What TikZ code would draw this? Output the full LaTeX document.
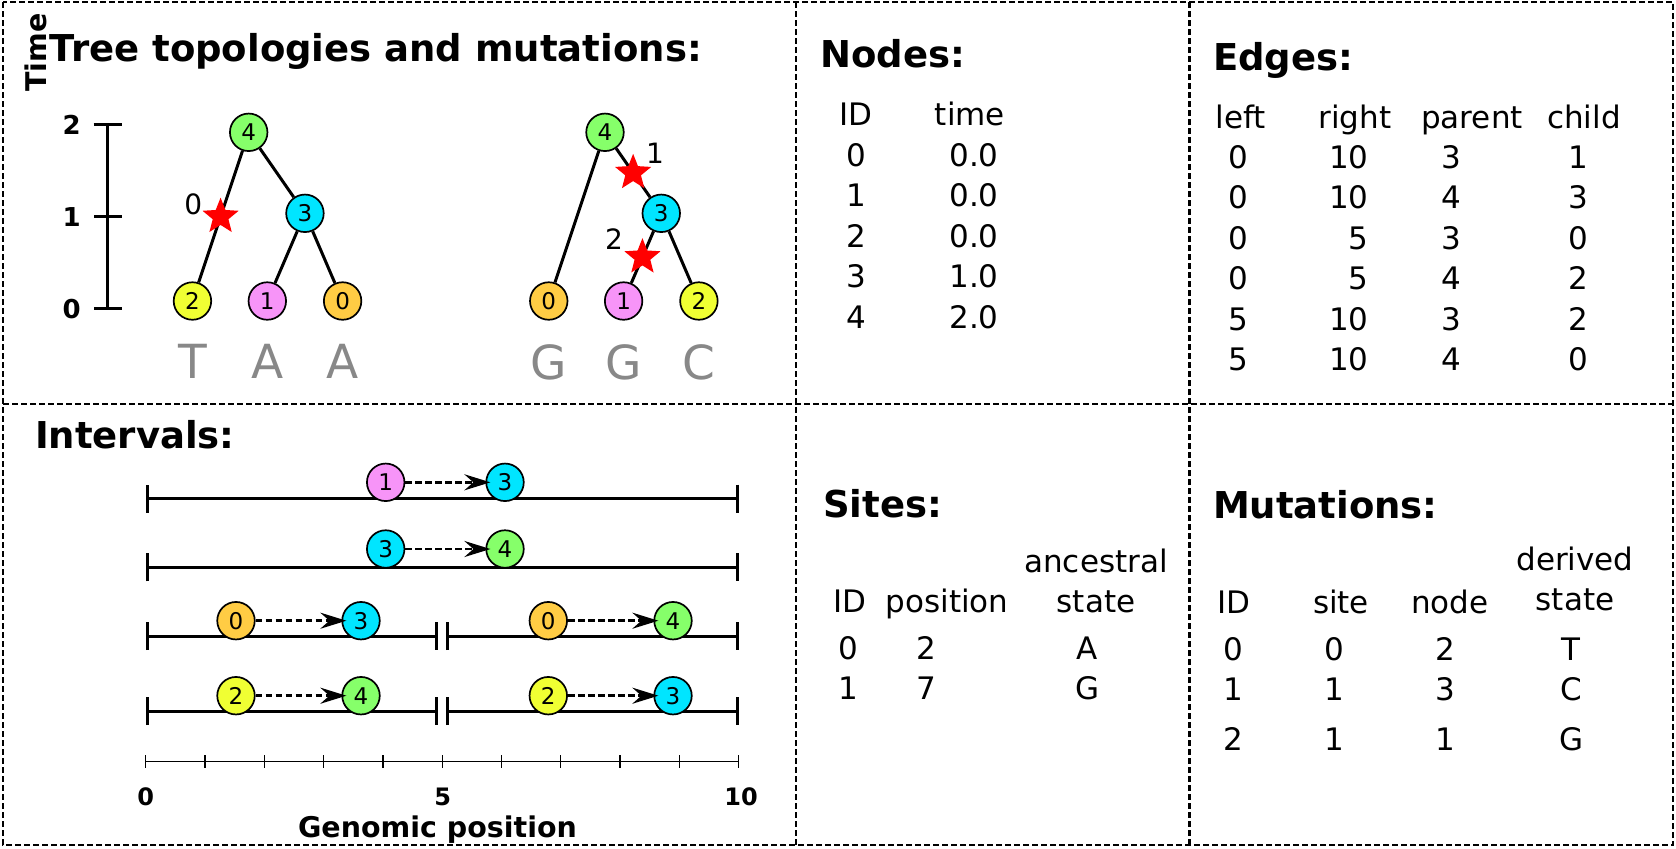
\documentclass[tikz,border=0pt]{standalone}
\usepackage{fontspec}
\setmainfont{DejaVu Sans}
\usetikzlibrary{arrows.meta, shapes.geometric}
\usetikzlibrary{positioning}
\definecolor{zerofill}{HTML}{FFCC44}
\definecolor{onefill}{HTML}{F794F8}
\definecolor{twofill}{HTML}{F0FF33}
\definecolor{threefill}{HTML}{00E5FF}
\definecolor{fourfill}{HTML}{86FF6A}
\definecolor{seqgray}{HTML}{888888}
\tikzstyle{tree_node} = [
    circle, 
    draw=black, 
    line width=0.85pt, 
    minimum size=18.75pt, 
    inner sep=0pt, % digits only
    font=\fontsize{11.5}{13}\selectfont
]
\tikzstyle{orange_node} = [tree_node, fill=zerofill]
\tikzstyle{pink_node} = [tree_node, fill=onefill]
\tikzstyle{yellow_node} = [tree_node, fill=twofill]
\tikzstyle{cyan_node} = [tree_node, fill=threefill]
\tikzstyle{green_node} = [tree_node, fill=fourfill]
\tikzstyle{mut_star} = [
    star, 
    star points=5, 
    star point ratio=2.3, 
    fill=red, 
    inner sep=0pt, 
    minimum size=19pt
]
\tikzstyle{mut_label} = [font=\fontsize{14}{16}\selectfont, inner sep=0pt]
\tikzstyle{seq_letter} = [text=seqgray, font=\fontsize{23.5}{28}\selectfont, inner sep=0pt]
\tikzstyle{panel_title} = [
    font=\fontsize{18.5}{22}\selectfont\bfseries, 
    inner sep=0pt, 
    anchor=base west
]
\tikzstyle{col_head} = [font=\fontsize{15.5}{20.25}\selectfont, inner sep=0pt, anchor=base]
\tikzstyle{col_values} = [col_head, text width=30pt, align=center]
\tikzstyle{tick_label} = [font=\fontsize{12}{14}\selectfont\bfseries, inner sep=0pt]
\tikzstyle{axis_label} = [font=\fontsize{14.25}{17}\selectfont\bfseries, inner sep=0pt]
\tikzstyle{panel_frame} = [line width=1.25pt, dash pattern=on 3pt off 1.5pt]
\tikzstyle{span_line} = [line width=1.5pt, {Bar[width=14pt]}-{Bar[width=14pt]}]
\tikzstyle{dash_arrow} = [
    line width=1.4pt, 
    dash pattern=on 3.3pt off 1.7pt, 
    -{Stealth[length=13pt, width=8pt, inset=4.5pt]}, 
    shorten >=-2.5pt
]

\begin{document}
\begin{tikzpicture}[
    x=0.5pt, y=-0.5pt,
    level 1/.style={sibling distance=56.25pt, level distance=40.5pt},
    level 2/.style={sibling distance=37.65pt, level distance=43.85pt},
    edge from parent/.style={draw, line width=1.5pt}
]
\useasboundingbox (0,0) rectangle (1676,848);

% panels
\draw [panel_frame] (3,2) rectangle (1673,845);
\draw [panel_frame] (796,2) -- (796,845) (1189.5,2) -- (1189.5,845) (3,404) -- (1673,404);

% tree topologies and mutations
\node [panel_title] (tree-title) at (49.5,61) {Tree topologies and mutations:};
\node [axis_label, rotate=90] (time-label) at (36,52.5) {Time};
\draw [span_line] (107.7,123.3) -- (107.7,310);
\draw [line width=1.5pt] (94,216.7) -- (122,216.7);
\node [tick_label, font=\fontsize{13}{15}\selectfont\bfseries] (time2) at (71.7,124.5) {2};
\node [tick_label, font=\fontsize{13}{15}\selectfont\bfseries] (time1) at (71.7,216.7) {1};
\node [tick_label, font=\fontsize{13}{15}\selectfont\bfseries] (time0) at (71.7,309) {0};

\node [green_node] (l4) at (248.7,132.3) {4}
    child[level distance=84.35pt]{ node [yellow_node] (l2) {2}
        edge from parent node [mut_star] (m0) {}
    }
    child{ node [cyan_node] (l3) {3}
        child{ node [pink_node] (l1) {1}}
        child{ node [orange_node] (l0) {0}}
    }
;
\node [green_node] (r4) at (605,132.3) {4}
    child[level distance=84.35pt]{ node [orange_node] (r0) {0}}
    child{ node [cyan_node] (r3) {3}
        child{ node [pink_node] (r1) {1}
            edge from parent node [mut_star] (m2) {}
        }
        child{ node [yellow_node] (r2) {2}}
        edge from parent node [mut_star] (m1) {}
    }
;
\node [mut_label, on grid, above left=6pt and 13.65pt of m0] (m0-label) {0};
\node [mut_label, on grid, above right=9.7pt and 11pt of m1] (m1-label) {1};
\node [mut_label, on grid, above left=9.15pt and 14.15pt of m2] (m2-label) {2};

\node [seq_letter, below=11.7pt of l2] (seq-l2) {T};
\node [seq_letter, below=11.7pt of l1] (seq-l1) {A};
\node [seq_letter, below=11.7pt of l0] (seq-l0) {A};
\node [seq_letter, below=11.7pt of r0] (seq-r0) {G};
\node [seq_letter, below=11.7pt of r1] (seq-r1) {G};
\node [seq_letter, below=11.7pt of r2] (seq-r2) {C};

% nodes table
\node [panel_title] (nodes-title) at (820,67) {Nodes:};
\node [col_head] (nodes-id) at (856,125) {ID};
\node [col_head] (nodes-time) at (970,125) {time};
\node [col_values] (nodes-idcol) at (856,166) {0\\1\\2\\3\\4};
\node [col_values] (nodes-timecol) at (974,166) {0.0\\0.0\\0.0\\1.0\\2.0};

% edges table
\node [panel_title] (edges-title) at (1212.6,70) {Edges:};
\node [col_head] (edges-left) at (1241,128) {left};
\node [col_head] (edges-right) at (1355,128) {right};
\node [col_head] (edges-parent) at (1472,128) {parent};
\node [col_head] (edges-child) at (1584,128) {child};
\node [col_values] (edges-leftcol) at (1238,168) {0\\0\\0\\0\\5\\5};
\node [col_values, align=right, anchor=base east] (edges-rightcol) at (1369,168) {10\\10\\5\\5\\10\\10};
\node [col_values] (edges-parentcol) at (1451,168) {3\\4\\3\\4\\3\\4};
\node [col_values] (edges-childcol) at (1578,168) {1\\3\\0\\2\\2\\0};

% intervals
\node [panel_title] (intervals-title) at (34.6,448) {Intervals:};
\draw [span_line] (145.7,498.7) -- (738.7,498.7);
\draw [span_line] (145.7,567.3) -- (738.7,567.3);
\draw [span_line] (145.7,636) -- (438.3,636);
\draw [span_line] (446,636) -- (738.7,636);
\draw [span_line] (145.7,711) -- (438.3,711);
\draw [span_line] (446,711) -- (738.7,711);

\node [pink_node] (a1c) at (385.7,482.3) {1};
\node [cyan_node] (a1p) at (505,482.3) {3};
\node [cyan_node] (a2c) at (385.7,549) {3};
\node [green_node] (a2p) at (505,549) {4};
\node [orange_node] (a3c) at (236,620.7) {0};
\node [cyan_node] (a3p) at (361,620.7) {3};
\node [orange_node] (b3c) at (548.3,620.7) {0};
\node [green_node] (b3p) at (673,620.7) {4};
\node [yellow_node] (a4c) at (236,695.7) {2};
\node [green_node] (a4p) at (361,695.7) {4};
\node [yellow_node] (b4c) at (548.3,695.7) {2};
\node [cyan_node] (b4p) at (673,695.7) {3};
\draw [dash_arrow] (a1c) -- (a1p);
\draw [dash_arrow] (a2c) -- (a2p);
\draw [dash_arrow] (a3c) -- (a3p);
\draw [dash_arrow] (b3c) -- (b3p);
\draw [dash_arrow] (a4c) -- (a4p);
\draw [dash_arrow] (b4c) -- (b4p);

\draw [line width=0.65pt] (145.7,761.7) -- (738.7,761.7);
\draw [line width=0.65pt] (145.7,755) -- (145.7,768.4) (205,755) -- (205,768.4)
    (264.3,755) -- (264.3,768.4) (323.6,755) -- (323.6,768.4)
    (382.9,755) -- (382.9,768.4) (442.2,755) -- (442.2,768.4)
    (501.5,755) -- (501.5,768.4) (560.8,755) -- (560.8,768.4)
    (620.1,755) -- (620.1,768.4) (679.4,755) -- (679.4,768.4)
    (738.7,755) -- (738.7,768.4);
\node [tick_label] (pos0) at (145.7,796.7) {0};
\node [tick_label] (pos5) at (442.7,796.7) {5};
\node [tick_label] (pos10) at (741,796.7) {10};
\node [axis_label, anchor=base] (pos-label) at (437.5,837) {Genomic position};

% sites table
\node [panel_title] (sites-title) at (822.6,517) {Sites:};
\node [col_head] (sites-id) at (850,612) {ID};
\node [col_head] (sites-pos) at (947,612) {position};
\node [col_values, text width=80pt] (sites-anc) at (1096,572) {ancestral\\state};
\node [col_values] (sites-idcol) at (848,659) {0\\1};
\node [col_values] (sites-poscol) at (926,659) {2\\7};
\node [col_values] (sites-anccol) at (1087,659) {A\\G};

% mutations table
\node [panel_title] (muts-title) at (1212.6,518) {Mutations:};
\node [col_head] (muts-id) at (1234,613) {ID};
\node [col_head] (muts-site) at (1341,613) {site};
\node [col_head] (muts-node) at (1450,613) {node};
\node [col_values, text width=60pt] (muts-der) at (1575,570) {derived\\state};
\node [col_values] (muts-idcol) at (1233,660) {0\\1\\[4.5pt]2};
\node [col_values] (muts-sitecol) at (1334,660) {0\\1\\[4.5pt]1};
\node [col_values] (muts-nodecol) at (1445,660) {2\\3\\[4.5pt]1};
\node [col_values] (muts-dercol) at (1571,660) {T\\C\\[4.5pt]G};
\end{tikzpicture}
\end{document}
